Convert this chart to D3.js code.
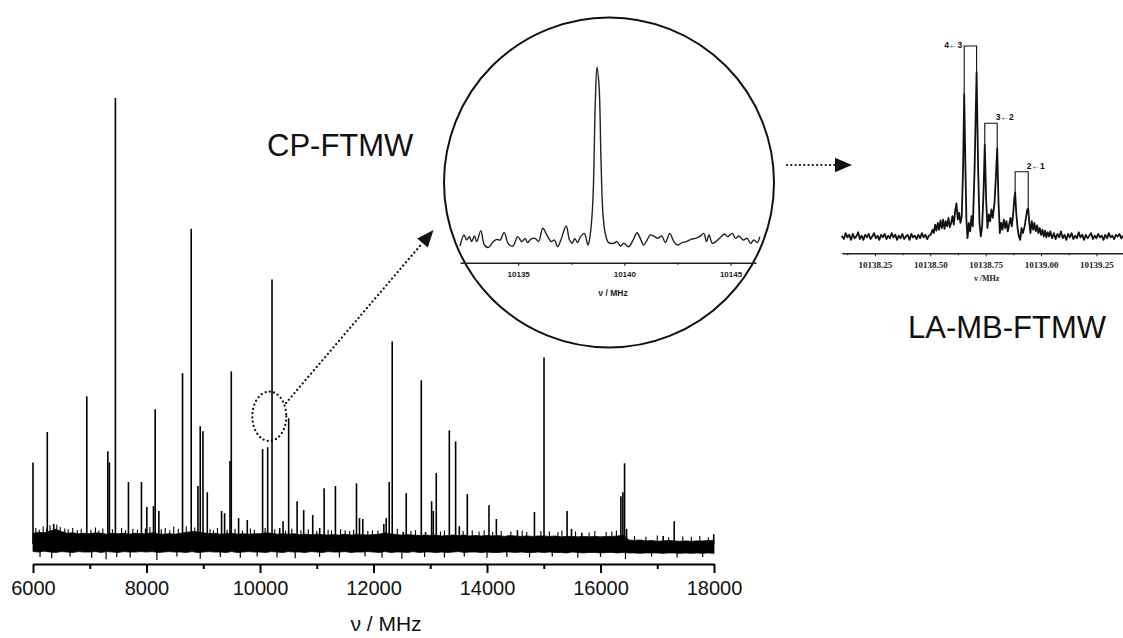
<!DOCTYPE html>
<html><head><meta charset="utf-8">
<script src="https://cdn.jsdelivr.net/npm/d3@7"></script>
<style>html,body{margin:0;padding:0;background:#fff;} svg{display:block;}</style>
</head><body>
<svg id="c" width="1123" height="638"></svg>
<script>
// ===== DATA =====
// Main CP-FTMW spectrum: line positions (MHz) and intensities (arb. units, tallest = 100)
const peakFreq = [6000,6252,6365,6948,7318,7346,7452,7682,7911,8006,8123,8153,8218,8635,8788,8906,8947,8995,9071,9323,9376,9471,9494,9623,9776,10046,10135,10212,10347,10406,10505,10654,10770,10929,11052,11130,11329,11700,11753,11811,12182,12224,12277,12330,12524,12577,12842,12918,13024,13054,13106,13336,13447,13512,13653,14035,14165,14536,14836,15005,15411,15489,15671,16359,16394,16424,16459,17105,17299,17995];
const peakInt  = [18.3,25.1,4.5,33.1,20.8,18.3,100,13.9,13.9,8.3,8.5,30.2,7.4,38.3,70.7,13.0,26.4,25.3,11.6,7.4,6.9,18.6,38.7,5.8,5.4,21.3,21.7,59.3,3.6,5.1,28.2,9.6,7.6,6.5,3.6,12.5,13.0,13.6,5.8,5.6,4.5,5.8,13.9,45.4,2.7,11.4,36.7,2.7,9.6,7.4,15.9,25.5,23.0,4.0,11.2,8.7,5.6,3.1,7.2,41.8,7.4,3.4,2.5,10.7,11.6,18.1,3.4,1.8,5.1,2.2];

// Noise band envelope of the main spectrum, sampled every 100 MHz (6000..18000)
const noiseTop = [
 2.4,2.6,2.5,2.9,3.3,2.8,2.4,2.5,2.3,2.4,
 2.3,2.5,2.4,2.2,2.4,2.3,2.4,2.2,2.4,2.3,
 2.3,2.5,2.3,2.2,2.3,2.2,2.4,2.6,2.8,2.7,
 2.5,2.3,2.4,2.2,2.3,2.4,2.2,2.3,2.2,2.3,
 2.3,2.5,2.4,2.2,2.3,2.2,2.3,2.1,2.2,2.1,
 2.2,2.1,2.0,2.1,2.0,2.2,2.0,2.1,2.1,2.0,
 2.1,2.2,2.5,2.3,2.1,2.0,2.1,2.0,1.9,2.0,
 1.9,2.0,1.8,1.9,2.0,1.9,2.0,1.8,1.9,1.8,
 1.9,1.8,1.9,1.7,1.9,1.8,1.7,1.8,1.7,1.8,
 1.8,1.7,1.8,1.6,1.7,1.7,1.6,1.7,1.6,1.7,
 1.6,1.7,1.7,1.8,2.0,0.9,0.8,0.9,0.7,0.8,
 0.6,0.7,0.8,0.7,0.6,0.7,0.6,0.7,0.7,0.8,
 0.8];
const noiseBottom = [
 -1.7,-1.8,-1.6,-1.8,-1.9,-1.7,-1.8,-1.9,-1.7,-1.8,
 -1.8,-1.7,-1.9,-1.7,-1.8,-1.9,-1.7,-1.8,-1.8,-1.7,
 -1.8,-1.7,-1.9,-1.8,-1.7,-1.8,-1.8,-1.9,-1.7,-1.9,
 -1.8,-1.7,-1.8,-1.8,-1.9,-1.7,-1.9,-1.8,-1.7,-1.8,
 -1.8,-1.9,-1.7,-1.8,-1.9,-1.7,-1.8,-1.8,-1.9,-1.7,
 -1.8,-1.9,-1.7,-1.8,-1.8,-1.7,-1.9,-1.8,-1.8,-1.7,
 -1.8,-1.9,-1.7,-1.9,-1.8,-1.8,-1.9,-1.7,-1.9,-1.8,
 -1.8,-1.9,-1.8,-1.9,-1.8,-1.7,-1.9,-1.8,-1.8,-1.9,
 -1.8,-1.9,-1.9,-1.8,-1.8,-1.9,-1.8,-1.9,-1.9,-1.8,
 -1.9,-1.8,-1.9,-1.9,-2.0,-1.8,-1.9,-2.0,-1.9,-1.9,
 -2.0,-1.9,-1.9,-2.0,-1.9,-2.0,-2.0,-2.1,-2.0,-2.0,
 -2.0,-2.1,-2.0,-2.0,-2.1,-2.0,-2.1,-2.0,-2.1,-2.0,
 -2.1];
// Small noise spikes poking above the band
const grassFreq = [6050,6110,6180,6240,6300,6420,6480,6560,6620,6700,6780,6850,7020,7100,7160,7230,7400,7560,7630,7760,7840,7980,8060,8260,8330,8410,8480,8560,8700,8850,9120,9180,9250,9420,9560,9690,9830,9900,10090,10260,10450,10560,10720,10850,11000,11200,11260,11420,11500,11580,11650,11900,11980,12080,12420,12660,12740,13180,13250,13580,13740,13860,13950,14100,14250,14420,14620,14700,14950,15100,15250,15320,15560,15800,15900,16100,16200,16280,16600,16800,17000,17200,17450,17600,17750,17900];
const grassInt = [3.6,3.2,3.9,3.4,4.2,4.4,3.8,3.5,3.3,3.6,
 3.1,3.4,3.2,3.7,3.0,3.5,3.3,3.6,3.1,3.4,
 3.2,3.5,3.8,3.3,3.6,3.1,3.9,3.4,4.0,3.7,
 3.3,3.1,3.6,3.2,3.4,3.0,3.5,3.2,3.6,3.3,
 3.0,3.4,3.1,3.3,2.9,3.2,3.0,3.3,3.1,2.9,
 3.2,2.9,3.1,3.0,3.4,2.9,3.1,2.8,3.0,2.9,
 3.1,2.8,3.0,2.7,2.9,2.8,3.0,2.7,2.9,2.8,
 2.7,3.0,2.8,2.6,2.9,2.7,2.8,3.0,1.8,1.6,
 1.9,1.5,1.7,1.6,1.8,1.5];
// Downward noise spikes below the band
const spikeFreq  = [6124,6330,6653,7035,7288,7476,7712,8183,8536,8947,9300,9653,9950,10300,10620,11050,11400,11850,12150,12500,12900,13250,13600,14000,14350,14750,15150,15600,16000,16440,16900,17350,17800];
const spikeDepth = [-2.9,-3.2,-2.8,-3.1,-3.4,-2.9,-3.0,-3.6,-2.8,-3.3,-2.9,-3.1,-2.8,-3.0,-3.2,-2.9,-3.0,-2.8,-3.1,-3.3,-2.9,-3.0,-2.8,-3.1,-2.9,-3.0,-2.8,-3.1,-2.9,-3.4,-2.8,-3.0,-2.9];

const mainTicks = [6000,8000,10000,12000,14000,16000,18000];
const mainMinorTicks = [7000,9000,11000,13000,15000,17000];

// CP-FTMW zoom (circle) trace
const cpFreq = [10132.26,10132.45,10132.58,10132.70,10132.81,10132.94,10133.05,10133.24,10133.41,10133.60,10133.79,10133.99,10134.15,10134.34,10134.54,10134.75,10134.98,10135.17,10135.33,10135.44,10135.60,10135.80,10135.96,10136.16,10136.35,10136.56,10136.71,10136.86,10137.01,10137.26,10137.42,10137.55,10137.66,10137.80,10137.92,10138.11,10138.29,10138.40,10138.52,10138.63,10138.71,10138.81,10138.90,10138.99,10139.10,10139.26,10139.50,10139.65,10139.81,10139.97,10140.20,10140.41,10140.60,10140.75,10140.91,10141.07,10141.23,10141.42,10141.57,10141.76,10141.93,10142.14,10142.33,10142.52,10142.72,10142.92,10143.14,10143.35,10143.55,10143.74,10143.87,10143.99,10144.14,10144.31,10144.53,10144.72,10144.87,10145.08,10145.24,10145.39,10145.60,10145.79,10145.94,10146.10,10146.26,10146.38];
const cpInt = [-4.7,1.8,-1.2,0.8,-2.1,1.2,-2.1,4.3,-4.1,-5.5,-2.7,-0.8,-1.2,3.3,-3.5,-4.7,0.8,-2.1,-0.2,-2.7,-0.6,-0.2,-2.1,5.7,1.8,-2.1,-1.2,-5.1,-1.2,7.0,-1.2,-3.1,-0.2,-2.7,0.4,2.7,-4.1,2.7,22.3,78.9,100,88.7,45.7,14.5,2.7,-2.7,-3.1,-2.1,-4.7,-3.1,-5.1,-1.2,3.1,-0.2,-4.1,-1.2,1.8,0.8,-0.2,1.2,-2.7,2.7,-2.1,-4.1,-2.7,-2.1,-0.8,-0.2,0.8,2.7,-2.1,1.8,-3.1,-2.1,0.4,2.3,0.8,2.7,-0.2,1.2,-1.2,-0.2,-3.1,-1.2,-2.7,0.8];
const cpTicks = [10135,10140,10145];
const cpMinorTicks = [10132.5,10137.5,10142.5];

// LA-MB-FTMW trace
const laFreq = [10138.100,10138.110,10138.118,10138.126,10138.134,10138.142,10138.150,10138.158,10138.166,10138.174,10138.182,10138.190,10138.198,10138.206,10138.214,10138.222,10138.230,10138.238,10138.246,10138.254,10138.262,10138.270,10138.278,10138.286,10138.294,10138.302,10138.310,10138.318,10138.326,10138.334,10138.342,10138.350,10138.358,10138.366,10138.374,10138.382,10138.390,10138.398,10138.406,10138.414,10138.422,10138.430,10138.438,10138.446,10138.454,10138.462,10138.470,10138.478,10138.486,10138.494,10138.502,10138.510,10138.516,10138.522,10138.528,10138.534,10138.540,10138.546,10138.552,10138.558,10138.564,10138.570,10138.576,10138.582,10138.588,10138.594,10138.600,10138.606,10138.612,10138.618,10138.624,10138.630,10138.636,10138.642,10138.648,10138.653,10138.658,10138.663,10138.668,10138.674,10138.680,10138.686,10138.692,10138.700,10138.709,10138.716,10138.722,10138.728,10138.734,10138.740,10138.746,10138.752,10138.758,10138.764,10138.770,10138.776,10138.782,10138.790,10138.796,10138.802,10138.808,10138.814,10138.820,10138.826,10138.832,10138.838,10138.844,10138.850,10138.856,10138.862,10138.868,10138.874,10138.879,10138.883,10138.888,10138.894,10138.900,10138.906,10138.912,10138.918,10138.926,10138.933,10138.938,10138.942,10138.947,10138.952,10138.958,10138.964,10138.970,10138.976,10138.982,10138.988,10138.994,10139.000,10139.006,10139.012,10139.018,10139.024,10139.030,10139.036,10139.042,10139.050,10139.058,10139.066,10139.074,10139.082,10139.090,10139.098,10139.106,10139.114,10139.122,10139.130,10139.138,10139.146,10139.154,10139.162,10139.170,10139.178,10139.186,10139.194,10139.202,10139.210,10139.218,10139.226,10139.234,10139.242,10139.250,10139.258,10139.266,10139.274,10139.282,10139.290,10139.298,10139.306,10139.314,10139.322,10139.330,10139.338,10139.346,10139.354,10139.362,10139.370];
const laInt = [0.5,-1.5,2.0,-0.5,1.0,-2.0,1.5,-1.0,0.0,2.5,-1.5,0.5,-2.0,1.0,-0.5,1.5,-1.5,0.0,2.0,-1.0,0.5,-2.0,1.0,-0.5,1.5,-1.5,0.5,-1.0,2.0,-0.5,1.0,-2.0,0.5,-1.0,1.5,-1.5,0.0,1.0,-2.0,1.5,-0.5,0.5,-1.5,1.0,-1.0,2.0,-0.5,1.0,-1.5,0.5,1.0,4.0,2.0,7.0,3.5,8.0,4.0,9.5,5.0,10.0,4.5,9.0,6.0,11.0,5.5,8.0,12.0,7.0,15.0,19.5,10.0,14.0,8.0,12.0,40.0,84.0,45.0,10.0,-1.0,8.0,3.0,12.0,6.0,40.0,97.0,40.0,8.0,0.0,6.0,25.0,54.0,22.0,5.0,13.0,9.0,16.0,11.0,20.0,35.0,52.0,20.0,2.0,8.0,4.0,10.0,5.0,9.0,3.0,7.0,11.0,6.0,13.0,22.0,26.0,14.0,5.0,0.0,-2.0,5.0,2.0,6.0,12.0,16.0,16.5,8.0,2.0,9.0,4.0,8.0,3.0,6.5,2.0,5.0,1.0,4.0,0.0,3.5,-0.5,2.5,0.0,3.0,-1.0,2.0,-1.5,1.5,-0.5,3.0,-1.0,1.0,-2.0,1.5,-0.5,2.0,-1.5,0.5,-1.0,2.5,-0.5,1.0,-2.0,1.0,-1.0,0.5,2.0,-1.5,0.5,-1.0,1.5,-0.5,0.5,-2.0,1.0,-1.0,2.0,-0.5,0.5,-1.5,1.0,0.0,1.5,-1.0,0.5];
const laTicks = [10138.25,10138.50,10138.75,10139.00,10139.25];
const laMinorTicks = [10138.125,10138.375,10138.625,10138.875,10139.125,10139.375];
// Hyperfine brackets: label, lower/upper component (MHz), bracket top (intensity)
const bracketLabels = ["4\u21903","3\u21902","2\u21901"];
const bracketF1 = [10138.653,10138.746,10138.883];
const bracketF2 = [10138.709,10138.802,10138.942];
const bracketTop = [112.4,66.8,38.2];

// ===== DRAWING =====
const svg = d3.select('#c');
const SANS = "'Liberation Sans', Arial, Helvetica, sans-serif";
const SERIF = "'Liberation Serif', 'Times New Roman', serif";

// ---- main spectrum ----
const x = d3.scaleLinear().domain([6000,18000]).range([33,714]);
const y = d3.scaleLinear().domain([0,100]).range([544,98]);
const gm = svg.append('g');
const noiseFreq = d3.range(6000, 18001, 100);
const noise = noiseFreq.map((f,i)=>({f, hi:noiseTop[i], lo:noiseBottom[i]}));
gm.append('path').datum(noise)
  .attr('d', d3.area().x(d=>x(d.f)).y0(d=>y(d.lo)).y1(d=>y(d.hi)))
  .attr('fill','#000').attr('stroke','#000').attr('stroke-width',0.8);
gm.selectAll('line.gr').data(grassFreq).join('line').attr('class','gr')
  .attr('x1',d=>x(d)).attr('x2',d=>x(d))
  .attr('y1',y(0)).attr('y2',(d,i)=>y(grassInt[i]))
  .attr('stroke','#000').attr('stroke-width',1.1);
gm.selectAll('line.ds').data(spikeFreq).join('line').attr('class','ds')
  .attr('x1',d=>x(d)).attr('x2',d=>x(d))
  .attr('y1',y(0)).attr('y2',(d,i)=>y(spikeDepth[i]))
  .attr('stroke','#000').attr('stroke-width',1.2);
gm.selectAll('line.pk').data(peakFreq).join('line').attr('class','pk')
  .attr('x1',d=>x(d)).attr('x2',d=>x(d))
  .attr('y1',y(0)).attr('y2',(d,i)=>y(peakInt[i]))
  .attr('stroke','#000').attr('stroke-width',1.6);

const ax = svg.append('g').attr('transform','translate(0,564)')
  .call(d3.axisBottom(x).tickValues(mainTicks).tickSize(9).tickSizeOuter(0).tickPadding(8).tickFormat(d3.format('d')));
ax.select('.domain').attr('stroke','#000').attr('stroke-width',2);
ax.selectAll('.tick line').attr('stroke','#000').attr('stroke-width',2);
ax.selectAll('.tick text').attr('font-size',20).attr('font-family',SANS).attr('fill','#111');
const axm = svg.append('g').attr('transform','translate(0,564)')
  .call(d3.axisBottom(x).tickValues(mainMinorTicks).tickSize(5).tickSizeOuter(0).tickFormat(''));
axm.select('.domain').remove();
axm.selectAll('.tick line').attr('stroke','#000').attr('stroke-width',2);
svg.append('text').attr('x',386).attr('y',631).attr('text-anchor','middle')
  .attr('font-family',SANS).attr('font-size',21).attr('fill','#111').text('\u03bd / MHz');

// ---- labels ----
svg.append('text').attr('x',267).attr('y',156).attr('font-family',SANS).attr('font-size',31).attr('fill','#111').text('CP-FTMW');
svg.append('text').attr('x',908).attr('y',338).attr('font-family',SANS).attr('font-size',31).attr('fill','#111').text('LA-MB-FTMW');

// ---- dotted ellipse and arrows ----
const dotted = sel => sel.attr('fill','none').attr('stroke','#111').attr('stroke-width',2.2)
  .attr('stroke-linecap','round').attr('stroke-dasharray','0.1,4.2');
svg.append('ellipse').attr('cx',269.3).attr('cy',416.3).attr('rx',17).attr('ry',24.7).call(dotted);
function arrow(x1,y1,x2,y2,len,hw){
  const a = Math.atan2(y2-y1,x2-x1);
  const bx = x2 - len*Math.cos(a), by = y2 - len*Math.sin(a);
  svg.append('line').attr('x1',x1).attr('y1',y1).attr('x2',bx).attr('y2',by).call(dotted);
  const px = -Math.sin(a)*hw, py = Math.cos(a)*hw;
  svg.append('path').attr('d',`M${x2},${y2}L${bx+px},${by+py}L${bx-px},${by-py}Z`).attr('fill','#111');
}
arrow(286,403,433.5,230,17,7);
arrow(787,165,852,165,17,7.2);

// ---- CP-FTMW circle inset ----
svg.append('circle').attr('cx',609).attr('cy',182.5).attr('r',165)
  .attr('fill','none').attr('stroke','#111').attr('stroke-width',2);
const xi = d3.scaleLinear().domain([10132.26,10146.2]).range([460,756]);
const yi = d3.scaleLinear().domain([0,100]).range([238,67.3]);
svg.append('path').datum(cpFreq.map((f,i)=>[f,cpInt[i]]))
  .attr('d', d3.line().x(d=>xi(d[0])).y(d=>yi(d[1])).curve(d3.curveCatmullRom.alpha(0.5)))
  .attr('fill','none').attr('stroke','#222').attr('stroke-width',1.4);
const axi = svg.append('g').attr('transform','translate(0,262.7)')
  .call(d3.axisBottom(xi).tickValues(cpTicks).tickSize(3).tickSizeOuter(0).tickPadding(6).tickFormat(d3.format('d')));
axi.select('.domain').attr('stroke','#222').attr('stroke-width',1.6);
axi.selectAll('.tick line').attr('stroke','#222').attr('stroke-width',1.2);
axi.selectAll('.tick text').attr('font-size',8).attr('font-weight','bold').attr('font-family',SANS).attr('fill','#222');
const axim = svg.append('g').attr('transform','translate(0,262.7)')
  .call(d3.axisBottom(xi).tickValues(cpMinorTicks).tickSize(2).tickFormat(''));
axim.select('.domain').remove();
axim.selectAll('.tick line').attr('stroke','#222').attr('stroke-width',1.2);
svg.append('text').attr('x',613).attr('y',296).attr('text-anchor','middle')
  .attr('font-family',SANS).attr('font-weight','bold').attr('font-size',8.5).attr('fill','#222').text('\u03bd / MHz');

// ---- LA-MB-FTMW inset ----
const xr = d3.scaleLinear().domain([10138.10,10139.37]).range([841.7,1123]);
const yr = d3.scaleLinear().domain([0,100]).range([236.5,67]);
svg.append('path').datum(laFreq.map((f,i)=>[f,laInt[i]]))
  .attr('d', d3.line().x(d=>xr(d[0])).y(d=>yr(d[1])))
  .attr('fill','none').attr('stroke','#111').attr('stroke-width',1.8).attr('stroke-linejoin','round');
const nearestInt = f => laInt[d3.minIndex(laFreq, v=>Math.abs(v-f))];
bracketLabels.forEach((lab,i)=>{
  const x1 = xr(bracketF1[i]), x2 = xr(bracketF2[i]), yt = yr(bracketTop[i]);
  svg.append('path').attr('d',`M${x1},${yr(nearestInt(bracketF1[i]))}V${yt}H${x2}V${yr(nearestInt(bracketF2[i]))}`)
    .attr('fill','none').attr('stroke','#111').attr('stroke-width',1.1);
  const t = svg.append('text').attr('font-family',SANS).attr('font-weight','bold').attr('font-size',8.5).attr('fill','#111').text(lab);
  if(i===0) t.attr('x',x1-2).attr('y',yt+2).attr('text-anchor','end');
  else t.attr('x',x2-1.5).attr('y',yt-3).attr('text-anchor','start');
});
const axr = svg.append('g').attr('transform','translate(0,253.3)')
  .call(d3.axisBottom(xr).tickValues(laTicks).tickSize(3).tickSizeOuter(0).tickPadding(5).tickFormat(d3.format('.2f')));
axr.select('.domain').attr('stroke','#222').attr('stroke-width',1.5);
axr.selectAll('.tick line').attr('stroke','#222').attr('stroke-width',1);
axr.selectAll('.tick text').attr('font-size',9).attr('font-weight','bold').attr('font-family',SERIF).attr('fill','#222');
const axrm = svg.append('g').attr('transform','translate(0,253.3)')
  .call(d3.axisBottom(xr).tickValues(laMinorTicks).tickSize(2).tickFormat(''));
axrm.select('.domain').remove();
axrm.selectAll('.tick line').attr('stroke','#222').attr('stroke-width',1);
svg.append('text').attr('x',986.7).attr('y',281).attr('text-anchor','middle')
  .attr('font-family',SERIF).attr('font-weight','bold').attr('font-size',8).attr('fill','#222').text('\u03bd /MHz');
</script>
</body></html>
